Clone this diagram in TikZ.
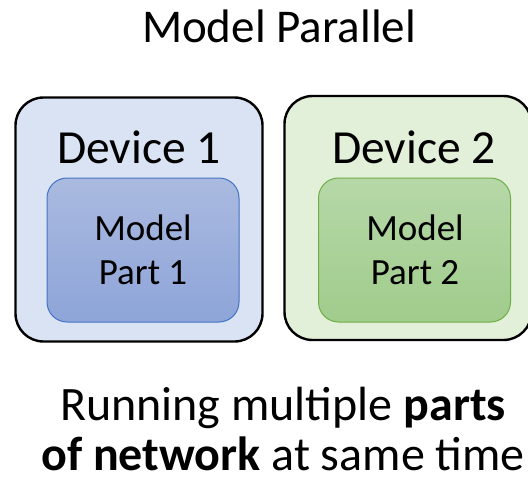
\documentclass[tikz,border=0pt]{standalone}
\usepackage{fontspec}
\setmainfont{Carlito}
\usetikzlibrary{positioning}
\definecolor{devBlue}{RGB}{218,227,243}
\definecolor{devGreen}{RGB}{226,240,217}
\definecolor{partBlueTop}{RGB}{170,186,224}
\definecolor{partBlueBot}{RGB}{142,165,217}
\definecolor{partBlueLine}{RGB}{68,114,196}
\definecolor{partGreenTop}{RGB}{182,216,168}
\definecolor{partGreenBot}{RGB}{160,204,140}
\definecolor{partGreenLine}{RGB}{112,173,71}

\tikzset{
  device/.style={draw=black, line width=2.4pt, rounded corners=28pt,
    minimum width=247pt, minimum height=244pt},
  part/.style={line width=1pt, rounded corners=20pt,
    minimum width=192pt, minimum height=144pt},
  devlbl/.style={anchor=base, font=\fontsize{47.5}{56}\selectfont},
  partlbl/.style={anchor=base, font=\fontsize{37}{44}\selectfont},
  caption/.style={anchor=base, font=\fontsize{48}{56}\selectfont},
}

\begin{document}
\begin{tikzpicture}[x=1pt,y=-1pt]
    \useasboundingbox (0,0) rectangle (528,482);
    \fill[white] (0,0) rectangle (528,482);
    % title
    \node[anchor=base, font=\fontsize{47}{56}\selectfont] (title) at (279,42) {Model Parallel};
    % devices
    \node[device, fill=devBlue] (dev1) at (139,219.5) {};
    \node[device, fill=devGreen] (dev2) at (408,218) {};
    \node[devlbl] (dev1lbl) at (139,163) {Device 1};
    \node[devlbl] (dev2lbl) at (414,163) {Device 2};
    % model parts
    \node[part, draw=partBlueLine, top color=partBlueTop, bottom color=partBlueBot] (part1) at (143,250) {};
    \node[part, draw=partGreenLine, top color=partGreenTop, bottom color=partGreenBot] (part2) at (414.5,250) {};
    \node[partlbl] (part1top) at (143,240) {Model};
    \node[partlbl] (part1bot) at (143,284) {Part 1};
    \node[partlbl] (part2top) at (415,240) {Model};
    \node[partlbl] (part2bot) at (415,284) {Part 2};
    % caption
    \node[caption] (cap1) at (283,420) {Running multiple \textbf{parts}};
    \node[caption] (cap2) at (283,470) {\textbf{of network} at same time};
\end{tikzpicture}
\end{document}
